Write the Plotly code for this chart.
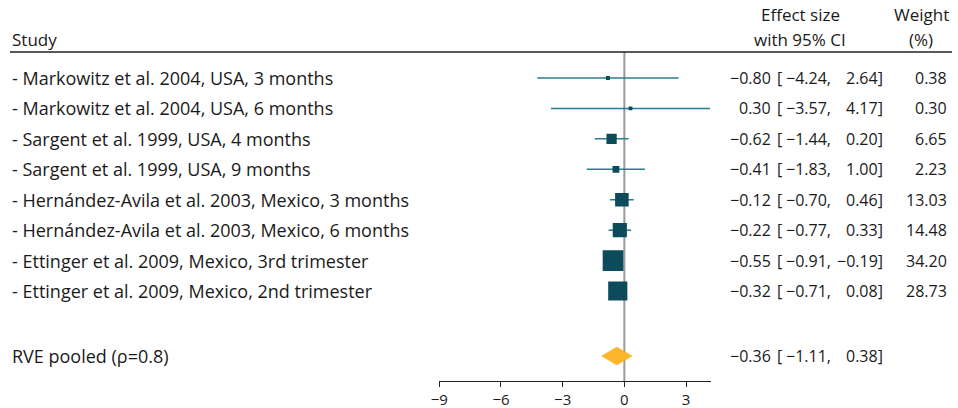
import plotly.graph_objects as go

studies = [
    "- Markowitz et al. 2004, USA, 3 months",
    "- Markowitz et al. 2004, USA, 6 months",
    "- Sargent et al. 1999, USA, 4 months",
    "- Sargent et al. 1999, USA, 9 months",
    "- Hernández-Avila et al. 2003, Mexico, 3 months",
    "- Hernández-Avila et al. 2003, Mexico, 6 months",
    "- Ettinger et al. 2009, Mexico, 3rd trimester",
    "- Ettinger et al. 2009, Mexico, 2nd trimester",
]
effect = [-0.80, 0.30, -0.62, -0.41, -0.12, -0.22, -0.55, -0.32]
ci_low = [-4.24, -3.57, -1.44, -1.83, -0.70, -0.77, -0.91, -0.71]
ci_high = [2.64, 4.17, 0.20, 1.00, 0.46, 0.33, -0.19, 0.08]
weight = [0.38, 0.30, 6.65, 2.23, 13.03, 14.48, 34.20, 28.73]

pooled_label = "RVE pooled (ρ=0.8)"
pooled_effect = -0.36
pooled_low = -1.11
pooled_high = 0.38

x_ticks = [-9, -6, -3, 0, 3]

W, H = 958, 408
FONT = "Open Sans"
TXT = "#1a1a1a"
MARK = "#0c4b5b"
LINE = "#2a7d94"
DIAMOND = "#fbb52b"

def px(x):
    return x / W

def py(y):
    return 1 - y / H

row_px0 = 78.0
row_step = 30.43
top_px = 52.0
axis_px = 381.0
pooled_px = 356.0

def row_val(p):
    return (p - row_px0) / row_step

rows = list(range(len(studies)))
pooled_row = row_val(pooled_px)

def fmt(v):
    s = f"{abs(v):.2f}"
    return ("−" + s) if v < 0 else s

fig = go.Figure()

# confidence-interval whiskers
lx, ly = [], []
for r, lo, hi in zip(rows, ci_low, ci_high):
    lx += [lo, hi, None]
    ly += [r, r, None]
fig.add_trace(go.Scatter(x=lx, y=ly, mode="lines",
                         line=dict(color=LINE, width=1.5),
                         hoverinfo="skip", showlegend=False))

# weight-scaled squares
sizes = [2 + 3.2 * (w ** 0.5) for w in weight]
fig.add_trace(go.Scatter(x=effect, y=rows, mode="markers", opacity=1,
                         marker=dict(symbol="square", size=sizes, color=MARK,
                                     opacity=1, line=dict(width=0)),
                         showlegend=False))

# pooled diamond
hh = 9 / row_step
fig.add_trace(go.Scatter(
    x=[pooled_low, pooled_effect, pooled_high, pooled_effect, pooled_low],
    y=[pooled_row, pooled_row - hh, pooled_row, pooled_row + hh, pooled_row],
    mode="lines", fill="toself", fillcolor=DIAMOND,
    line=dict(color=DIAMOND, width=0.5), showlegend=False))

y_top = row_val(top_px)
y_bot = row_val(axis_px)

shapes = [
    dict(type="line", xref="x", yref="y", x0=0, x1=0, y0=y_top, y1=y_bot,
         line=dict(color="#999999", width=2), layer="below"),
    dict(type="line", xref="paper", yref="paper", x0=px(10), x1=px(952),
         y0=py(top_px), y1=py(top_px), line=dict(color="#222222", width=1.5)),
]

ann = []

def text(x, y, t, anchor="left", yref="y", size=16):
    ann.append(dict(x=x, y=y, xref="paper", yref=yref, text=t, showarrow=False,
                    xanchor=anchor, yanchor="middle", borderpad=0,
                    font=dict(family=FONT, size=size, color=TXT)))

# headers
text(px(11), py(39), "Study", "left", "paper", 17)
text(px(800), py(15), "Effect size", "center", "paper", 17)
text(px(800), py(40), "with 95% CI", "center", "paper", 17)
text(px(921), py(15), "Weight", "center", "paper", 17)
text(px(921), py(40), "(%)", "center", "paper", 17)

all_rows = rows + [pooled_row]
all_labels = studies + [pooled_label]
all_eff = effect + [pooled_effect]
all_lo = ci_low + [pooled_low]
all_hi = ci_high + [pooled_high]
all_w = [f"{w:.2f}" for w in weight] + [""]

for r, lab, e, lo, hi, w in zip(all_rows, all_labels, all_eff, all_lo, all_hi, all_w):
    text(px(11), r, lab, "left", "y", 18)
    text(px(772), r, fmt(e), "right")
    text(px(776), r, "[", "left")
    text(px(832), r, fmt(lo) + ",", "right")
    text(px(884), r, fmt(hi) + "]", "right")
    if w:
        text(px(948), r, w, "right")

fig.update_layout(
    width=W, height=H,
    margin=dict(l=0, r=0, t=0, b=0, autoexpand=False),
    paper_bgcolor="white", plot_bgcolor="white",
    shapes=shapes, annotations=ann,
    xaxis=dict(domain=[px(439.3), px(710.7)], range=[-9, 4.2],
               tickvals=x_ticks, showline=True, linecolor="#222222", linewidth=1,
               ticks="outside", ticklen=5, tickcolor="#222222", showgrid=False,
               zeroline=False, tickfont=dict(family=FONT, size=15, color=TXT),
               anchor="y", automargin=False),
    yaxis=dict(domain=[py(axis_px), py(top_px)], range=[y_bot, y_top],
               visible=False, showgrid=False, zeroline=False, automargin=False),
)

fig.write_html("out.html", config={"displayModeBar": False},
               post_script="document.documentElement.style.overflow='hidden';document.body.style.margin='0';document.body.style.padding='0';document.body.style.overflow='hidden';")
